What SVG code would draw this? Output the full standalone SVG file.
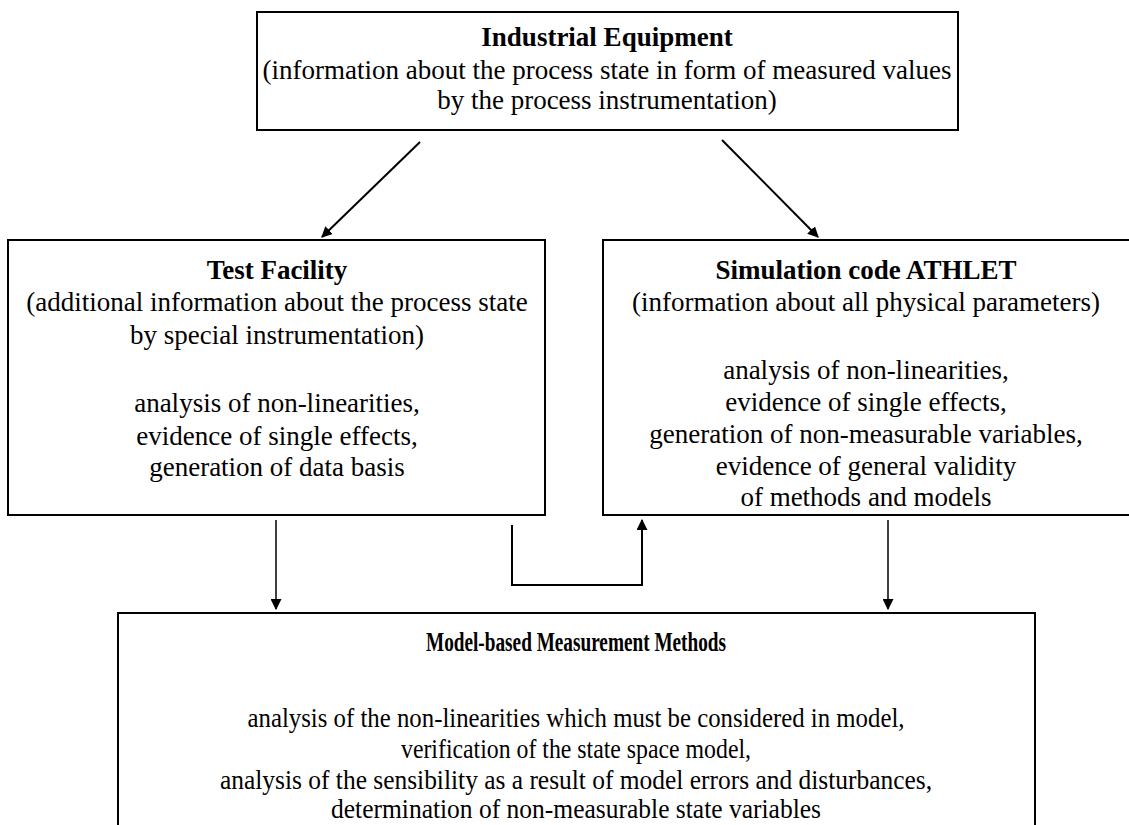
<svg xmlns="http://www.w3.org/2000/svg" width="1129" height="825" viewBox="0 0 1129 825">
  <style>
    .box { fill: #fff; stroke: #000; stroke-width: 2; }
    text { font-family: "Liberation Serif", "Times New Roman", serif; font-size: 27px; fill: #000; text-anchor: middle; }
    .title { font-weight: bold; }
    .link { fill: none; stroke: #000; stroke-width: 2; }
    .thin { stroke-width: 1.5; }
  </style>
  <defs>
    <marker id="arrow" viewBox="0 0 10 10" refX="9" refY="5" markerWidth="11" markerHeight="11" markerUnits="userSpaceOnUse" orient="auto">
      <path d="M0,0 L10,5 L0,10 z" fill="#000"/>
    </marker>
  </defs>

  <g id="industrial-equipment">
    <rect class="box" x="257" y="12" width="701" height="118"/>
    <text class="title" x="607" y="46">Industrial Equipment</text>
    <text x="607" y="79">(information about the process state in form of measured values</text>
    <text x="607" y="109">by the process instrumentation)</text>
  </g>

  <g id="test-facility">
    <rect class="box" x="8" y="240" width="537" height="275"/>
    <text class="title" x="277" y="279">Test Facility</text>
    <text x="277" y="311">(additional information about the process state</text>
    <text x="277" y="344">by special instrumentation)</text>
    <text x="277" y="412">analysis of non-linearities,</text>
    <text x="277" y="445">evidence of single effects,</text>
    <text x="277" y="476">generation of data basis</text>
  </g>

  <g id="simulation-code">
    <rect class="box" x="603" y="240" width="540" height="275"/>
    <text class="title" x="866" y="279">Simulation code ATHLET</text>
    <text x="866" y="311">(information about all physical parameters)</text>
    <text x="866" y="379">analysis of non-linearities,</text>
    <text x="866" y="411">evidence of single effects,</text>
    <text x="866" y="443">generation of non-measurable variables,</text>
    <text x="866" y="475">evidence of general validity</text>
    <text x="866" y="506">of methods and models</text>
  </g>

  <g id="measurement-methods">
    <rect class="box" x="118" y="613" width="917" height="240"/>
    <text class="title" x="576" y="651" textLength="300" lengthAdjust="spacingAndGlyphs">Model-based Measurement Methods</text>
    <text x="576" y="727" textLength="657" lengthAdjust="spacingAndGlyphs">analysis of the non-linearities which must be considered in model,</text>
    <text x="576" y="758" textLength="350" lengthAdjust="spacingAndGlyphs">verification of the state space model,</text>
    <text x="576" y="789" textLength="712" lengthAdjust="spacingAndGlyphs">analysis of the sensibility as a result of model errors and disturbances,</text>
    <text x="576" y="818" textLength="490" lengthAdjust="spacingAndGlyphs">determination of non-measurable state variables</text>
  </g>

  <g id="connectors">
    <line class="link" x1="420" y1="142" x2="322" y2="237" marker-end="url(#arrow)"/>
    <line class="link" x1="722" y1="140" x2="818" y2="237" marker-end="url(#arrow)"/>
    <line class="link thin" x1="276" y1="520" x2="276" y2="609" marker-end="url(#arrow)"/>
    <line class="link thin" x1="888" y1="520" x2="888" y2="609" marker-end="url(#arrow)"/>
    <polyline class="link" points="512,525 512,585 642,585 642,520" marker-end="url(#arrow)"/>
  </g>
</svg>
